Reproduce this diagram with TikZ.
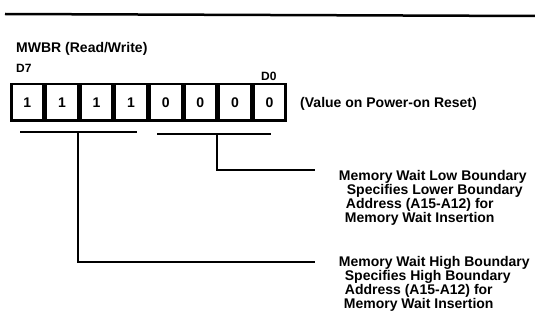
\documentclass[tikz,border=0pt]{standalone}
\usepackage{fontspec}
\setmainfont{Liberation Sans}
\begin{document}
\begin{tikzpicture}[x=1pt,y=-1pt,line width=1.8pt,
        font=\fontsize{14}{14.4}\selectfont\bfseries]
        \useasboundingbox (0,0) rectangle (535,326);
        \draw[line width=2.5pt] (5,14) -- (535,16);
        \node (T) at (12,49) [anchor=west]{MWBR (Read/Write)};
        \node (D7) at (12,68) [anchor=west,font=\fontsize{12}{12}\selectfont\bfseries]{D7};
        \node (D0) at (257,76) [anchor=west,font=\fontsize{12}{12}\selectfont\bfseries]{D0};
        \begin{scope}[every node/.style={draw,line width=2.5pt,inner sep=0pt,
                        minimum width=32.1pt,minimum height=36.5pt}]
            \node (B7) at (27.3,102.5) {1};
            \node (B6) at (61.9,102.5) {1};
            \node (B5) at (96.5,102.5) {1};
            \node (B4) at (131.1,102.5) {1};
            \node (B3) at (165.7,102.5) {0};
            \node (B2) at (200.3,102.5) {0};
            \node (B1) at (234.9,102.5) {0};
            \node (B0) at (269.5,102.5) {0};
        \end{scope}
        \node (V) at (296,104) [anchor=west]{(Value on Power-on Reset)};
        \begin{scope}[every node/.style={anchor=north west,align=left,inner sep=0pt,
                        font=\fontsize{14}{14.3}\selectfont\bfseries}]
            \node (L) at (338,169)
                {Memory Wait Low Boundary\\
                 \hspace*{8pt}Specifies Lower Boundary\\
                 \hspace*{7pt}Address (A15-A12) for\\
                 \hspace*{6pt}Memory Wait Insertion};
            \node (H) at (338,255)
                {Memory Wait High Boundary\\
                 \hspace*{6pt}Specifies High Boundary\\
                 \hspace*{6pt}Address (A15-A12) for\\
                 \hspace*{5pt}Memory Wait Insertion};
        \end{scope}
        \coordinate (HB) at (78,132);
        \coordinate (LB) at (217,134);
        \coordinate (HE) at (315,262);
        \coordinate (LE) at (315,170);
        \draw (20,132) -- (137,132);
        \draw (157,134) -- (271,134);
        \draw (HB) |- (HE);
        \draw (LB) |- (LE);
    \end{tikzpicture}
\end{document}
